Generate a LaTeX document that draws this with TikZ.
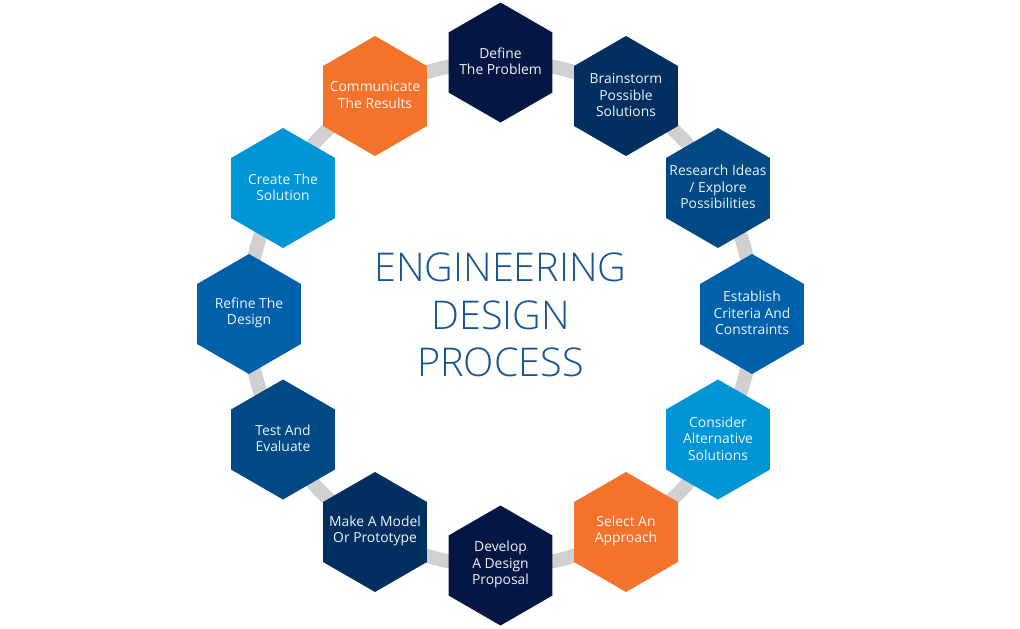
\documentclass[tikz,border=0pt]{standalone}
\usepackage{fontspec}
\setmainfont{Open Sans}
\newfontfamily\titlefont{Open Sans Light}
\usetikzlibrary{shapes.geometric,backgrounds}
\definecolor{navyA}{RGB}{4,22,68}
\definecolor{navyB}{RGB}{0,47,96}
\definecolor{blueA}{RGB}{0,73,133}
\definecolor{blueB}{RGB}{0,96,170}
\definecolor{skyA}{RGB}{0,149,214}
\definecolor{orangeA}{RGB}{244,115,43}
\definecolor{ringgray}{RGB}{208,208,208}
\definecolor{titleblue}{RGB}{22,85,145}
\definecolor{hexwhite}{RGB}{240,244,248}
\tikzset{
  hexbox/.style={shape=regular polygon,regular polygon sides=6,shape border rotate=30,minimum size=90pt,inner sep=0pt,outer sep=0pt,fill=#1},
  hextext/.style={text=hexwhite,align=center,yshift=0.75pt,font=\fontsize{10.4pt}{12.3pt}\selectfont},
  every label/.style={hextext},
  ringlink/.style={draw=ringgray,line width=10.5pt},
}
\begin{document}
\begin{tikzpicture}[x=0.75pt,y=-0.75pt]
        \useasboundingbox (0,0) rectangle (1020,628);
        \node [hexbox=navyA,label=center:{Define\\The Problem}] (define) at (500.5,62.5) {};
        \node [hexbox=navyB,label=center:{Brainstorm\\Possible\\Solutions}] (brainstorm) at (626,96) {};
        \node [hexbox=blueA,label=center:{Research Ideas\\/ Explore\\Possibilities}] (research) at (718,188) {};
        \node [hexbox=blueB,label=center:{Establish\\Criteria And\\Constraints}] (establish) at (752,314) {};
        \node [hexbox=skyA,label=center:{Consider\\Alternative\\Solutions}] (consider) at (718,439.5) {};
        \node [hexbox=orangeA,label=center:{Select An\\Approach}] (select) at (626,532) {};
        \node [hexbox=navyA,label=center:{Develop\\A Design\\Proposal}] (develop) at (500.5,565.5) {};
        \node [hexbox=navyB,label=center:{Make A Model\\Or Prototype}] (model) at (375,532) {};
        \node [hexbox=blueA,label=center:{Test And\\Evaluate}] (test) at (283,439.5) {};
        \node [hexbox=blueB,label=center:{Refine The\\Design}] (refine) at (249,314) {};
        \node [hexbox=skyA,label=center:{Create The\\Solution}] (create) at (283,188) {};
        \node [hexbox=orangeA,label=center:{Communicate\\The Results}] (communicate) at (375,96) {};
        \node [text=titleblue,align=center,font=\titlefont\fontsize{29.7pt}{35.6pt}\selectfont] (title) at (500.5,315) {ENGINEERING\\DESIGN\\PROCESS};
        \begin{scope}[on background layer]
        \draw [ringlink] (define.center) to[bend left=15] (brainstorm.center);
        \draw [ringlink] (brainstorm.center) to[bend left=15] (research.center);
        \draw [ringlink] (research.center) to[bend left=15] (establish.center);
        \draw [ringlink] (establish.center) to[bend left=15] (consider.center);
        \draw [ringlink] (consider.center) to[bend left=15] (select.center);
        \draw [ringlink] (select.center) to[bend left=15] (develop.center);
        \draw [ringlink] (develop.center) to[bend left=15] (model.center);
        \draw [ringlink] (model.center) to[bend left=15] (test.center);
        \draw [ringlink] (test.center) to[bend left=15] (refine.center);
        \draw [ringlink] (refine.center) to[bend left=15] (create.center);
        \draw [ringlink] (create.center) to[bend left=15] (communicate.center);
        \draw [ringlink] (communicate.center) to[bend left=15] (define.center);
        \end{scope}
    \end{tikzpicture}
\end{document}
